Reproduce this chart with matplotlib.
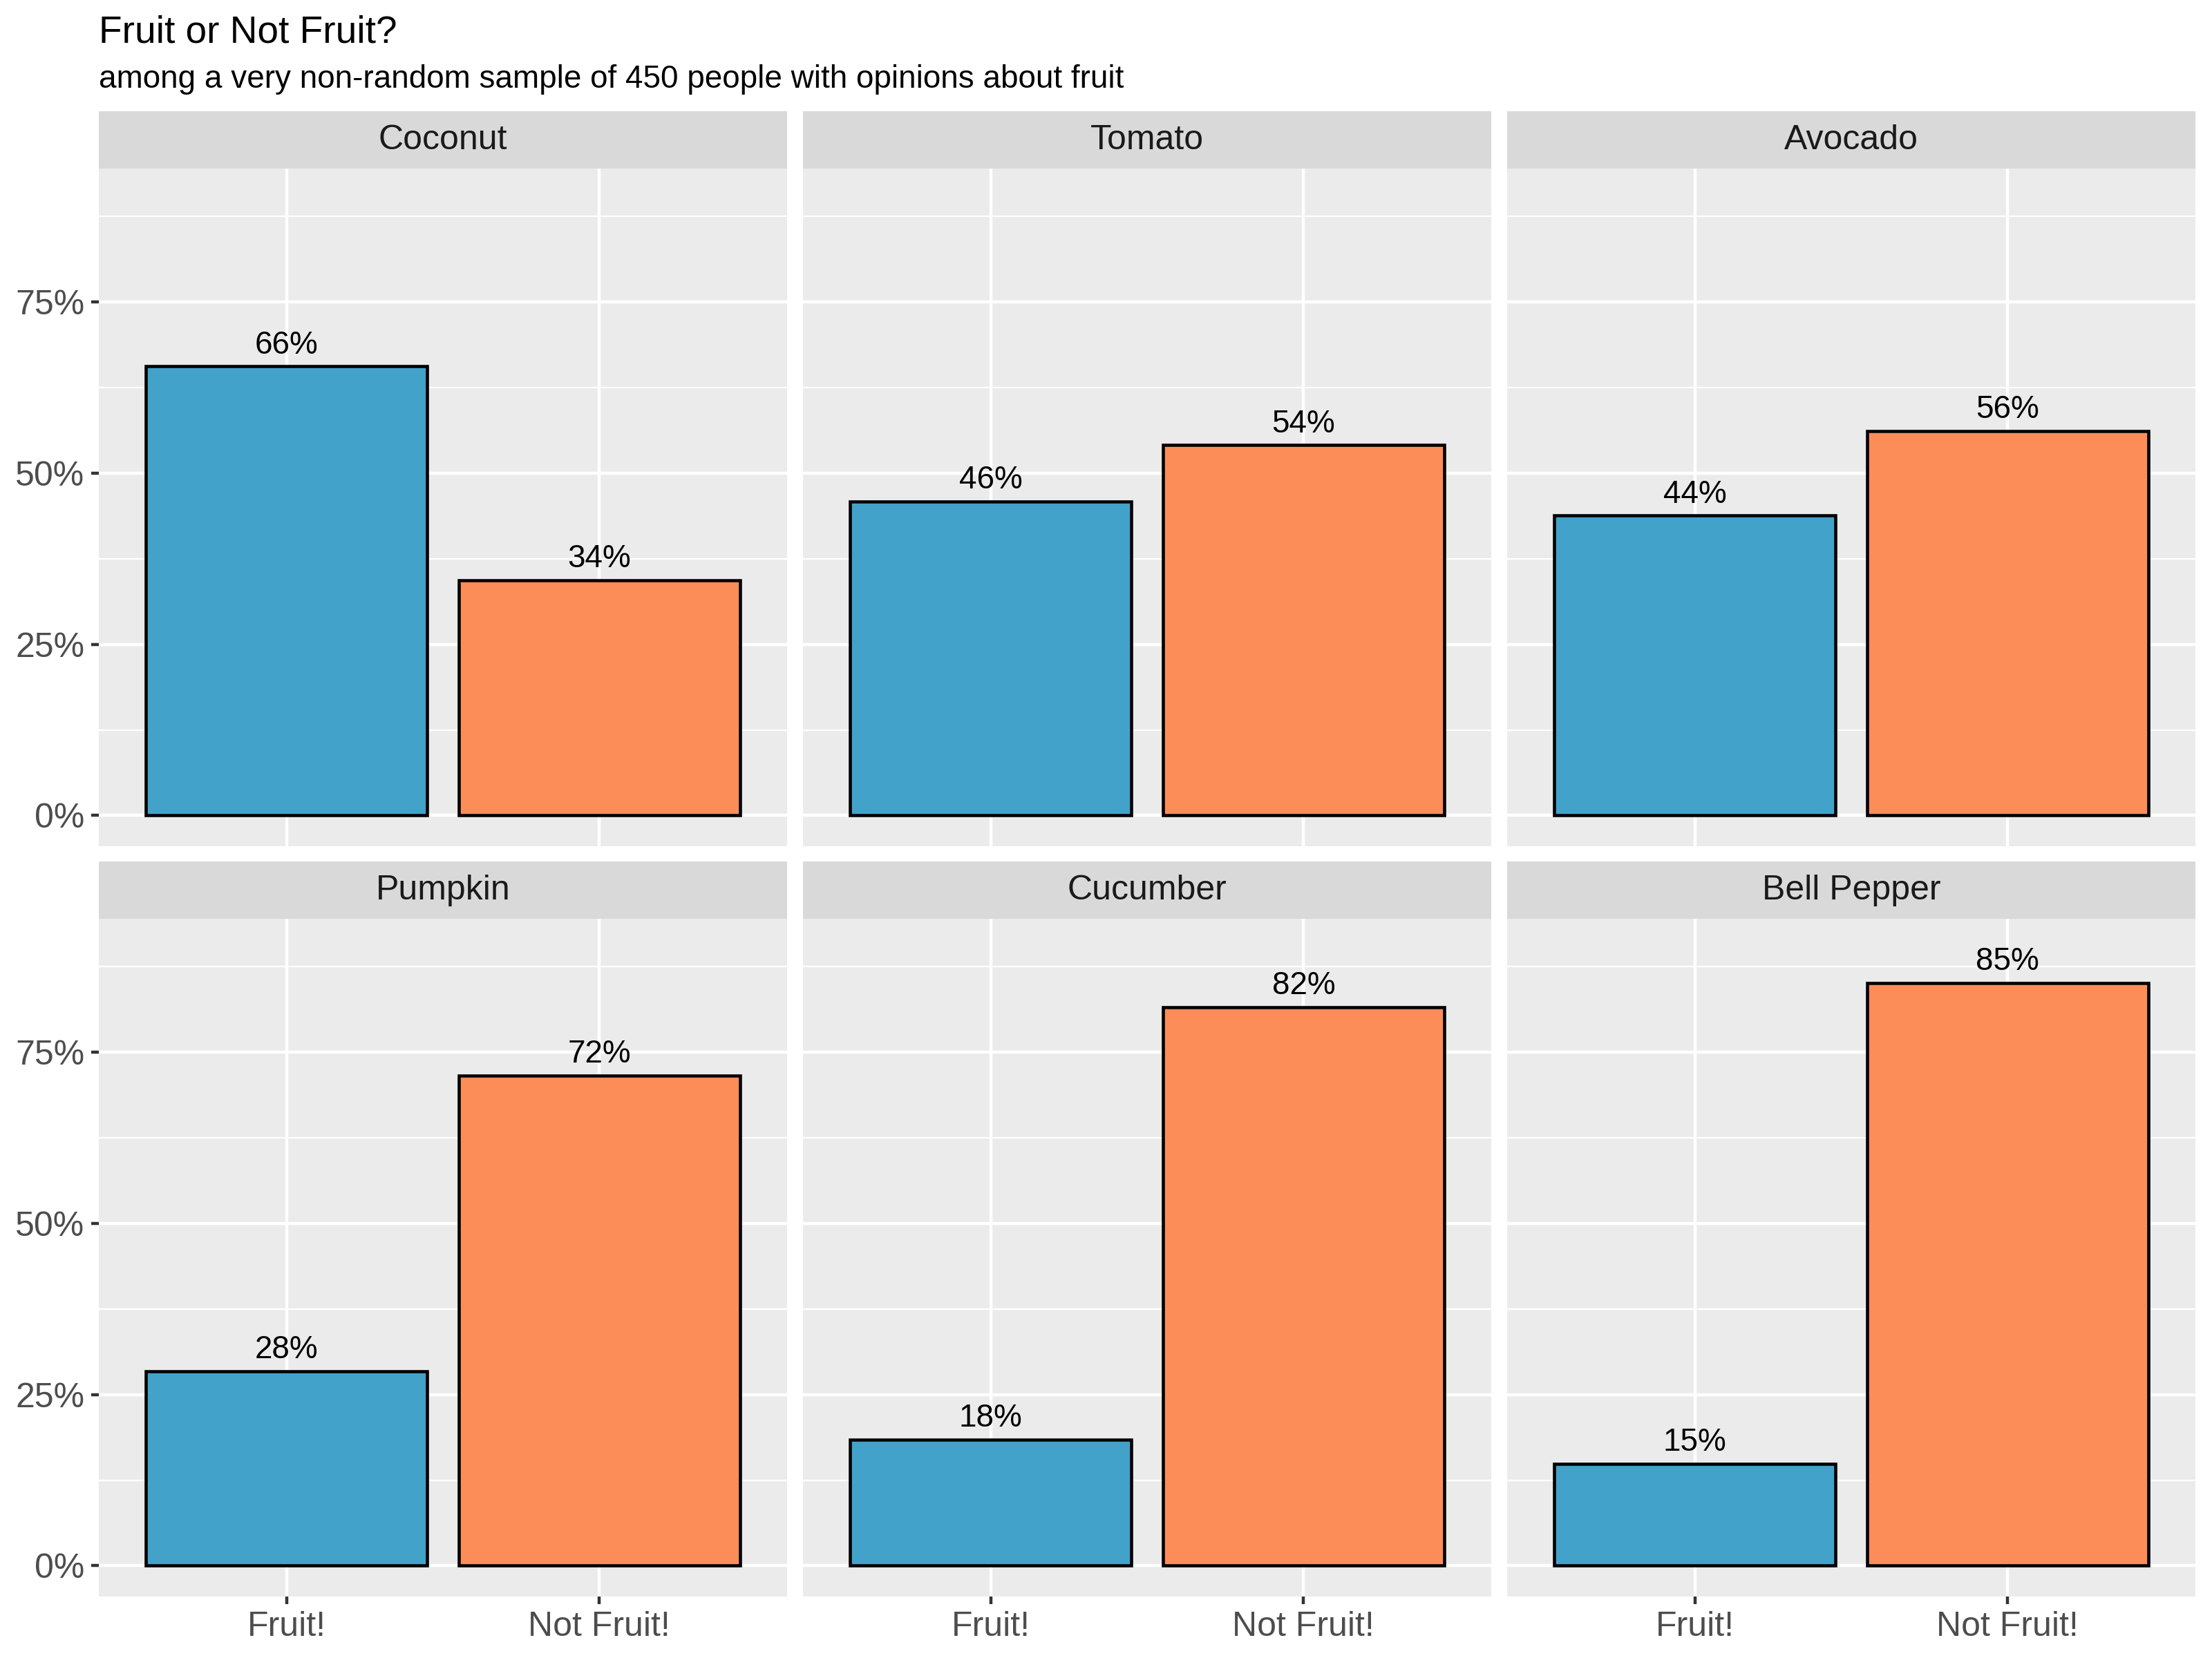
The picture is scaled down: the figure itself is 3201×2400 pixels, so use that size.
import matplotlib
matplotlib.use('Agg')
import matplotlib.pyplot as plt
from matplotlib.ticker import FixedLocator, FuncFormatter

plt.rcParams['font.family'] = ['Liberation Sans', 'DejaVu Sans']

# data
fruits = ['Coconut', 'Tomato', 'Avocado', 'Pumpkin', 'Cucumber', 'Bell Pepper']
answers = ['Fruit!', 'Not Fruit!']
fruit_share = [0.656, 0.459, 0.438, 0.284, 0.184, 0.149]
not_fruit_share = [0.344, 0.541, 0.562, 0.716, 0.816, 0.851]
bar_colors = ['#43A2CA', '#FC8D59']

title = 'Fruit or Not Fruit?'
subtitle = 'among a very non-random sample of 450 people with opinions about fruit'

W, H, DPI = 3201, 2400, 300
fig = plt.figure(figsize=(W / DPI, H / DPI), dpi=DPI)

# layout in pixels
col_left = [143, 1162, 2181]
panel_w = 996
rows = [(161, 244, 1225), (1247, 1330, 2311)]  # strip top, panel top, panel bottom


def rect(x, y_top, w, h):
    return [x / W, 1 - (y_top + h) / H, w / W, h / H]


grid_lw = 1.07
fig.text(143 / W, 1 - 62 / H, title, fontsize=13.2, color='black', va='baseline', ha='left')
fig.text(143 / W, 1 - 127 / H, subtitle, fontsize=11, color='black', va='baseline', ha='left')

for i, name in enumerate(fruits):
    r, c = divmod(i, 3)
    s_top, p_top, p_bot = rows[r]
    x0 = col_left[c]

    # strip
    sax = fig.add_axes(rect(x0, s_top, panel_w, p_top - s_top))
    sax.set_facecolor('#D9D9D9')
    sax.set_xticks([])
    sax.set_yticks([])
    for sp in sax.spines.values():
        sp.set_visible(False)
    sax.text(0.5, 0.5, name, transform=sax.transAxes, ha='center', va='center',
             fontsize=12, color='#1A1A1A')

    ax = fig.add_axes(rect(x0, p_top, panel_w, p_bot - p_top))
    ax.set_facecolor('#EBEBEB')
    for sp in ax.spines.values():
        sp.set_visible(False)
    vals = [fruit_share[i], not_fruit_share[i]]
    xs = [1, 2]
    ax.bar(xs, vals, width=0.9, color=bar_colors, edgecolor='black', linewidth=1.1, zorder=3)
    for x, v in zip(xs, vals):
        ax.annotate(f'{round(v * 100):.0f}%', (x, v), xytext=(0, 4.5), textcoords='offset points',
                    ha='center', va='baseline', fontsize=11, color='black', zorder=4)

    ax.set_xlim(0.4, 2.6)
    ax.set_ylim(-0.045, 0.945)
    ax.yaxis.set_major_locator(FixedLocator([0, 0.25, 0.5, 0.75]))
    ax.yaxis.set_minor_locator(FixedLocator([0.125, 0.375, 0.625, 0.875]))
    ax.yaxis.set_major_formatter(FuncFormatter(lambda v, p: f'{v * 100:.0f}%'))
    ax.set_xticks(xs)
    ax.set_xticklabels(answers)
    ax.grid(which='major', color='white', linewidth=grid_lw, zorder=0)
    ax.grid(which='minor', axis='y', color='white', linewidth=grid_lw / 2, zorder=0)
    ax.set_axisbelow(True)
    ax.tick_params(which='major', length=2.75, width=grid_lw, color='#333333',
                   labelcolor='#4D4D4D', labelsize=12, pad=2.2)
    ax.tick_params(which='minor', length=0)
    if c != 0:
        ax.tick_params(axis='y', which='both', left=False, labelleft=False)
    if r != 1:
        ax.tick_params(axis='x', which='both', bottom=False, labelbottom=False)

fig.savefig('out.png', dpi=DPI, facecolor='white')
